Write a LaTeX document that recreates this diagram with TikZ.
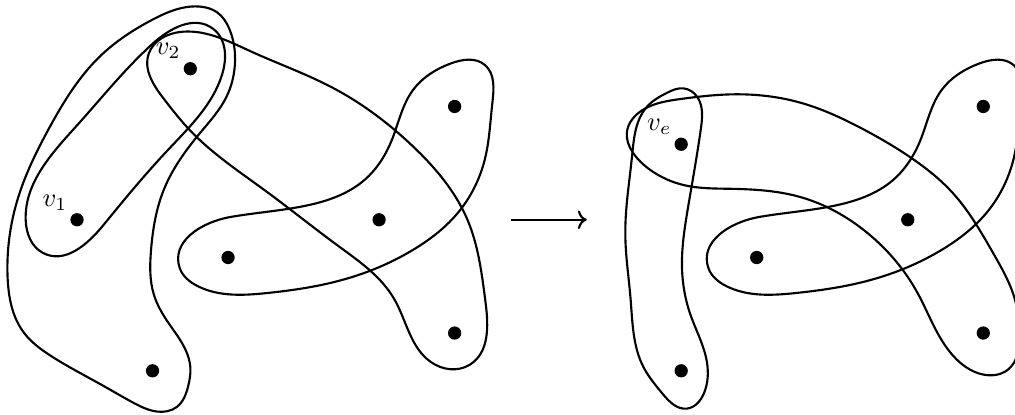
\documentclass[tikz,border=0pt]{standalone}
\usetikzlibrary{arrows.meta, positioning, hobby}
\tikzset{
  vtx/.style={circle, fill=black, inner sep=0pt, minimum size=5pt},
  hedge/.style={thick},
  mapArrow/.style={->, thick},
}
\begin{document}
\begin{tikzpicture}
    \useasboundingbox (-1.02,-0.58) rectangle (12.42,4.91);
    % vertices
    \node[vtx, label={[label distance=-2.5pt]above left:$v_1$}] (v1) at (0,2) {};
    \node[vtx, label={[label distance=-2.5pt]above left:$v_2$}] (v2) at (1.5,4) {};
    \node[vtx, label={[label distance=-2.5pt]above left:$v_e$}] (ve) at (8,3) {};
    \foreach \dx/\s in {0/L, 7/R} {
      \node[vtx] (b\s)  at (1+\dx,0)   {};
      \node[vtx] (cl\s) at (2+\dx,1.5) {};
      \node[vtx] (cr\s) at (4+\dx,2)   {};
      \node[vtx] (tr\s) at (5+\dx,3.5) {};
      \node[vtx] (br\s) at (5+\dx,0.5) {};
      % edge {cl, cr, tr}
      \draw[hedge, shift={(\dx,0)}] plot[closed hobby] coordinates {
        (1.36,1.36) (2.05,2.04) (3.0,2.18) (3.81,2.53) (4.17,3.06) (4.45,3.72)
        (4.95,4.07) (5.4,4.05) (5.5,3.55) (5.4,2.8) (5.05,2.1) (4.48,1.62)
        (3.5,1.2) (2.52,1.03) (1.6,1.12)};
    }
    % left: edge {v1, v2, b}
    \draw[hedge] plot[closed hobby] coordinates {
      (1.65,4.82) (1.0,4.65) (0.3,4.16) (-0.36,3.23) (-0.79,2.26) (-0.92,1.25)
      (-0.7,0.5) (-0.35,0.2) (0.35,-0.2) (0.74,-0.42) (1.06,-0.54) (1.32,-0.48)
      (1.47,-0.21) (1.5,0.05) (1.4,0.35) (1.2,0.65) (1.02,1.0) (0.98,1.6)
      (1.15,2.4) (1.63,3.15) (1.98,3.63) (2.09,4.05) (2.02,4.52) (1.85,4.75)};
    % left: edge {v1, v2}
    \draw[hedge] plot[closed hobby] coordinates {
      (-0.45,1.56) (-0.68,2.0) (0,3.25) (1.0,4.33) (1.8,4.53) (1.92,3.92)
      (1.2,2.92) (0.35,1.93)};
    % left: edge {v2, cr, br}
    \draw[hedge] plot[closed hobby] coordinates {
      (0.95,4.2) (1.4,4.49) (2.3,4.23) (3.4,3.74) (4.45,2.97) (5.17,2.0)
      (5.41,0.9) (5.2,0.08) (4.68,0.12) (4.2,0.95) (3.45,1.66) (2.5,2.38)
      (1.5,3.18) (1.15,3.6)};
    % right: edge {ve, b}
    \draw[hedge] plot[closed hobby] coordinates {
      (7.55,3.5) (7.81,3.68) (8.03,3.74) (8.21,3.63) (8.26,3.2) (8.16,2.57)
      (8.08,2.1) (8.01,1.4) (8.12,0.75) (8.34,0.12) (8.3,-0.3) (8.08,-0.5)
      (7.75,-0.3) (7.5,0.05) (7.33,0.95) (7.26,1.8) (7.35,2.85)};
    % right: edge {ve, cr, br}
    \draw[hedge] plot[closed hobby] coordinates {
      (7.28,3.15) (7.5,3.46) (8.0,3.6) (8.65,3.66) (9.58,3.55) (10.37,3.22)
      (11.03,2.83) (11.6,2.35) (12.13,1.56) (12.42,0.94) (12.48,0.5) (12.32,0.01)
      (12.0,-0.05) (11.6,0.2) (11.13,1.03) (10.46,1.83) (9.58,2.30) (8.65,2.41)
      (8.03,2.46) (7.59,2.66) (7.36,2.89)};
    % contraction arrow
    \coordinate (arrS) at (5.75,2);
    \coordinate (arrE) at (6.75,2);
    \draw[mapArrow] (arrS) -- (arrE);
\end{tikzpicture}
\end{document}
